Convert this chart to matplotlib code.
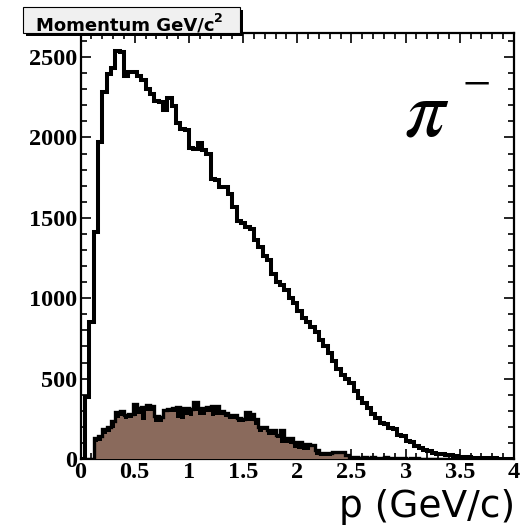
import matplotlib
matplotlib.use('Agg')
import matplotlib.pyplot as plt
import numpy as np
from matplotlib.patches import Rectangle

# momentum bins, 0-4 GeV/c in 100 bins
edges = np.linspace(0, 4, 101)

all_counts = [
    0, 385, 855, 1410, 1970, 2285, 2395, 2430, 2535, 2530,
    2380, 2410, 2405, 2385, 2355, 2300, 2270, 2225, 2220, 2170,
    2245, 2195, 2090, 2050, 2045, 1935, 1930, 1965, 1925, 1900,
    1740, 1735, 1695, 1690, 1650, 1565, 1480, 1465, 1445, 1430,
    1365, 1320, 1260, 1235, 1150, 1100, 1085, 1050, 1000, 970,
    920, 880, 850, 820, 790, 740, 700, 660, 610, 560,
    520, 500, 470, 420, 380, 350, 320, 280, 255, 225,
    215, 195, 185, 150, 140, 112, 105, 78, 70, 55,
    50, 38, 34, 30, 27, 24, 18, 15, 12, 10,
    8, 7, 6, 5, 4, 4, 3, 2, 2, 1,
]

sel_counts = [
    0, 0, 0, 130, 140, 185, 200, 235, 290, 300,
    275, 280, 345, 315, 325, 336, 330, 270, 262, 305,
    310, 315, 325, 320, 315, 312, 355, 320, 315, 325,
    330, 332, 300, 285, 275, 275, 255, 250, 290, 280,
    250, 200, 198, 182, 178, 150, 180, 130, 128, 108,
    105, 95, 95, 85, 55, 40, 35, 35, 45, 45,
    42, 25, 15, 10, 8, 12, 6, 10, 5, 8,
    12, 6, 4, 8, 5, 3, 6, 4, 2, 3,
    2, 0, 0, 0, 0, 0, 0, 0, 0, 0,
    0, 0, 0, 0, 0, 0, 0, 0, 0, 0,
]

good_counts = [
    0, 0, 0, 105, 115, 155, 165, 190, 255, 265,
    250, 255, 270, 280, 240, 300, 300, 232, 230, 290,
    292, 292, 255, 250, 272, 270, 300, 275, 272, 292,
    265, 275, 272, 260, 250, 250, 232, 230, 236, 236,
    211, 170, 178, 150, 148, 128, 98, 98, 96, 67,
    65, 56, 56, 75, 25, 20, 18, 18, 35, 35,
    33, 14, 0, 0, 0, 0, 0, 0, 0, 0,
    0, 0, 0, 0, 0, 0, 0, 0, 0, 0,
    0, 0, 0, 0, 0, 0, 0, 0, 0, 0,
    0, 0, 0, 0, 0, 0, 0, 0, 0, 0,
]

W, H = 522, 530
fig = plt.figure(figsize=(W / 100, H / 100), dpi=100)
fig.patch.set_facecolor('white')


def fx(px):
    return px / W


def fy(py):
    return 1 - py / H


ax = fig.add_axes([fx(80.5), fy(459), fx(514) - fx(80.5), fy(33) - fy(459)])

ax.stairs(sel_counts, edges, fill=True, color='black', zorder=2)
ax.stairs(good_counts, edges, fill=True, color='#8a6a5c', zorder=3)
ax.stairs(sel_counts, edges, color='black', lw=2.4, zorder=4)
ax.stairs(all_counts, edges, color='black', lw=2.9, zorder=5)

ax.set_xlim(0, 4)
ax.set_ylim(0, 2650)
ax.set_xticks(np.arange(0, 4.01, 0.5))
ax.set_xticklabels(['0', '0.5', '1', '1.5', '2', '2.5', '3', '3.5', '4'])
ax.set_xticks(np.arange(0, 4.01, 0.1), minor=True)
ax.set_yticks(np.arange(0, 2501, 500))
ax.set_yticks(np.arange(0, 2601, 100), minor=True)

for s in ax.spines.values():
    s.set_linewidth(1.6)
ax.tick_params(which='both', direction='in', top=True, right=True, width=1.2)
ax.tick_params(which='major', length=7.5, pad=2.5)
ax.tick_params(which='minor', length=4)
for lab in ax.get_xticklabels() + ax.get_yticklabels():
    lab.set_family('Liberation Serif')
    lab.set_weight('bold')
    lab.set_size(17.5)

# title box with ROOT-like shadow
fig.patches.append(Rectangle((fx(26), fy(36)), fx(243) - fx(26), fy(10) - fy(36),
                             transform=fig.transFigure, facecolor='black', edgecolor='none', zorder=10))
fig.patches.append(Rectangle((fx(23), fy(33)), fx(240) - fx(23), fy(7) - fy(33),
                             transform=fig.transFigure, facecolor='#f0f0f0', edgecolor='black',
                             lw=0.8, zorder=11))
fig.text(fx(36), fy(30), 'Momentum GeV/c', family='DejaVu Sans', weight='bold',
         fontsize=13, ha='left', va='baseline', zorder=12)
fig.text(fx(214), fy(22), '2', family='DejaVu Sans', weight='bold',
         fontsize=9, ha='left', va='baseline', zorder=12)

# particle label
plt.rcParams['mathtext.fontset'] = 'stix'
fig.text(fx(427), fy(135), r'$\pi$', fontsize=58, ha='center', va='baseline')
fig.text(fx(477), fy(100), '\u2212', family='Liberation Serif', fontsize=36,
         ha='center', va='baseline')

fig.text(fx(515), fy(517), 'p (GeV/c)', family='DejaVu Sans', fontsize=27,
         ha='right', va='baseline')

fig.savefig('out.png', dpi=100)
